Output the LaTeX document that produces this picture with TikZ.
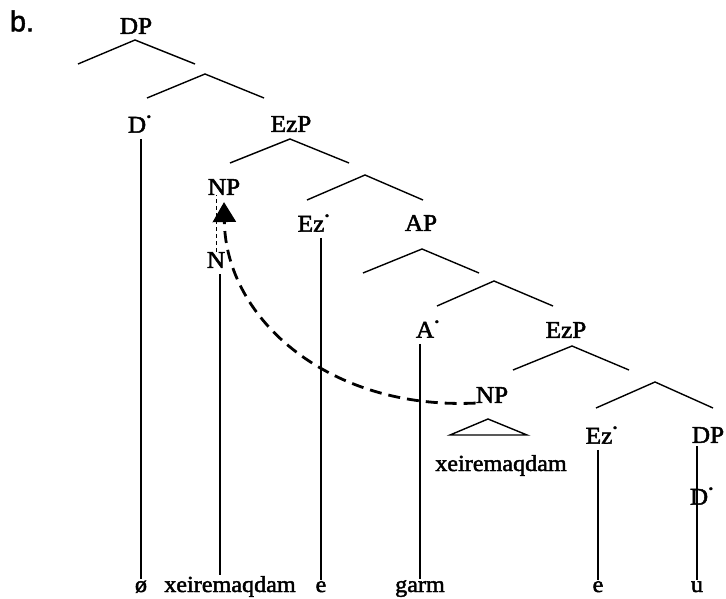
\documentclass[tikz,border=0pt]{standalone}
\usepackage{fontspec}
\setmainfont{Liberation Serif}
\newfontfamily\labfont{Liberation Serif}[FakeStretch=1.05,FakeBold=2]
\newfontfamily\exfont{Liberation Sans}[FakeBold=1.5]
\usetikzlibrary{arrows.meta}
\newcommand\bdot{\raisebox{0.5em}{\fontsize{12}{12}\selectfont\kern0.5pt\textbullet}}
\begin{document}
\begin{tikzpicture}[x=1pt,y=-1pt,
  lab/.style={font=\labfont\fontsize{24}{27}\selectfont, inner sep=0pt},
  word/.style={font=\labfont\fontsize{23}{25}\selectfont, inner sep=0pt, anchor=base},
  branch/.style={line width=1.4pt},
  stem/.style={line width=2.1pt, shorten <=6pt, shorten >=1pt},
  move/.style={line width=2.8pt, dash pattern=on 12pt off 7pt, -{Triangle[length=20pt,width=23pt]}},
  trace/.style={line width=1pt, dash pattern=on 4pt off 3pt}]
\useasboundingbox (0,0) rectangle (726,599);

% example label
\node[font=\exfont\fontsize{29}{32}\selectfont, inner sep=0pt] (ex) at (22,21) {b.};

% category labels
\node[lab] (DP1) at (136,26) {DP};
\node[lab] (D1) at (139.5,124) {D\bdot};
\node[lab] (EzP1) at (291,124) {EzP};
\node[lab] (NP1) at (224,187) {NP};
\node[lab] (Ez1) at (313.5,223) {Ez\bdot};
\node[lab] (AP) at (421,223) {AP};
\node[lab] (N) at (216,260) {N};
\node[lab] (A1) at (427.5,329) {A\bdot};
\node[lab] (EzP2) at (566,330) {EzP};
\node[lab] (NP2) at (492,395) {NP};
\node[lab] (Ez2) at (601.5,435) {Ez\bdot};
\node[lab] (DP2) at (708,435) {DP};
\node[lab] (D2) at (701.5,496) {D\bdot};

% terminal words
\node[word] (w1) at (141,592) {ø};
\node[word] (w2) at (230,592) {xeiremaqdam};
\node[word] (w3) at (321,592) {e};
\node[word] (w4) at (420,592) {garm};
\node[word] (w5) at (598,592) {e};
\node[word] (w6) at (697,592) {u};
\node[word] (tw) at (501,471) {xeiremaqdam};

% branching points
\coordinate (a1) at (135,40);  \coordinate (l1) at (78,64);   \coordinate (r1) at (195,64);
\coordinate (a2) at (205,74);  \coordinate (l2) at (147,98);  \coordinate (r2) at (264,98);
\coordinate (a3) at (290,139); \coordinate (l3) at (230,163); \coordinate (r3) at (349,163);
\coordinate (a4) at (365,175); \coordinate (l4) at (307,200); \coordinate (r4) at (423,200);
\coordinate (a5) at (422,249); \coordinate (l5) at (363,273); \coordinate (r5) at (479,273);
\coordinate (a6) at (494,281); \coordinate (l6) at (437,306); \coordinate (r6) at (553,306);
\coordinate (a7) at (572,346); \coordinate (l7) at (513,370); \coordinate (r7) at (629,370);
\coordinate (a8) at (655,382); \coordinate (l8) at (596,408); \coordinate (r8) at (713,408);
\foreach \i in {1,...,8} { \draw[branch] (l\i) -- (a\i) -- (r\i); }

% triangle
\coordinate (tA) at (488,419); \coordinate (tL) at (450,435); \coordinate (tR) at (527,435);
\draw[branch] (tL) -- (tA) -- (tR) -- cycle;

% unary stems
\draw[stem] (w1.north |- D1.south) -- (w1.north);
\draw[stem] ([xshift=4pt]N.south) -- ([xshift=4pt]N.south |- w2.north);
\draw[stem] (w3.north |- Ez1.south) -- (w3.north);
\draw[stem] (w4.north |- A1.south) -- (w4.north);
\draw[stem] (w5.north |- Ez2.south) -- (w5.north);
\draw[stem, shorten <=3pt] (w6.north |- DP2.south) -- (w6.north);

% trace and movement
\draw[trace] (N.north) -- (N.north |- NP1.south);
\draw[move] (NP2.south west) .. controls (330,410) and (226,320) .. ([yshift=-7pt]NP1.south);
\end{tikzpicture}
\end{document}
